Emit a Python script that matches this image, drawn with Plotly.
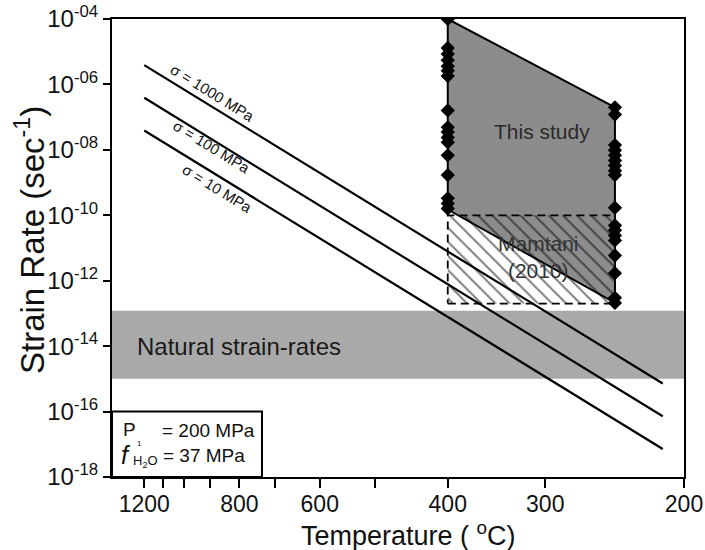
import numpy as np
import plotly.graph_objects as go

# ---------------- data ----------------
tick_temps = [1200, 1100, 1000, 900, 800, 700, 600, 500, 400, 300, 200]
tick_labels = ["1200", "", "", "", "800", "", "600", "", "400", "300", "200"]
x_range_temps = [1413, 200]

y_tick_exps = [-18, -16, -14, -12, -10, -8, -6, -4]

# flow-law lines (strain rate, 1/s) at the end temperatures
line_temps = [1200, 213]
stress_labels = ["σ = 1000 MPa", "σ = 100 MPa", "σ = 10 MPa"]
rate_1000 = [3.9e-6, 7.2e-16]
rate_100 = [3.9e-7, 7.2e-17]
rate_10 = [3.9e-8, 7.2e-18]

# natural strain-rate band
natural_band = [1.0e-15, 1.2e-13]

# this study envelope
study_temps = [400, 245, 245, 400]
study_rates = [1.0e-4, 2.0e-7, 2.1e-13, 1.5e-10]

# experiments (diamonds)
exp_400_rates = [1.0e-4, 1.3e-5, 8.5e-6, 5.5e-6, 3.6e-6, 2.6e-6, 1.8e-6, 1.6e-7,
                 4.9e-8, 3.5e-8, 2.4e-8, 1.7e-8, 6.8e-9, 1.7e-9, 3.3e-10, 2.3e-10, 1.6e-10]
exp_245_rates = [2.0e-7, 1.2e-7, 1.4e-8, 9.8e-9, 6.8e-9, 4.7e-9, 3.3e-9, 2.3e-9, 1.7e-9,
                 1.7e-10, 4.9e-11, 3.5e-11, 2.4e-11, 1.7e-11, 5.9e-12, 1.7e-12, 3.0e-13, 2.1e-13]

# Mamtani (2010) range
mamtani_temps = [400, 245]
mamtani_rates = [2.0e-13, 1.0e-10]


def inv(temps):
    return [1000.0 / (t + 273.15) for t in temps]


FONT = "Liberation Sans, Arial, sans-serif"
fig = go.Figure()

xr = inv(x_range_temps)

# natural band
fig.add_trace(go.Scatter(
    x=[xr[0], xr[1], xr[1], xr[0], xr[0]],
    y=[natural_band[0], natural_band[0], natural_band[1], natural_band[1], natural_band[0]],
    mode="lines", fill="toself", fillcolor="#a9a9a9", line=dict(width=0),
    hoverinfo="skip", showlegend=False))

# this study polygon
sx = inv(study_temps)
fig.add_trace(go.Scatter(
    x=sx + [sx[0]], y=study_rates + [study_rates[0]],
    mode="lines", fill="toself", fillcolor="#8c8c8c",
    line=dict(color="black", width=2), showlegend=False))

# Mamtani hatched rectangle
mx = inv(mamtani_temps)
fig.add_trace(go.Scatter(
    x=[mx[0], mx[1], mx[1], mx[0], mx[0]],
    y=[mamtani_rates[0], mamtani_rates[0], mamtani_rates[1], mamtani_rates[1], mamtani_rates[0]],
    mode="lines", fill="toself", fillcolor="rgba(0,0,0,0)",
    fillpattern=dict(shape="\\", fgcolor="#000000", bgcolor="rgba(0,0,0,0)", size=10, solidity=0.2),
    line=dict(color="black", width=1.8, dash="8px,5px"), showlegend=False))

# flow-law lines
lx = inv(line_temps)
for rates in (rate_1000, rate_100, rate_10):
    fig.add_trace(go.Scatter(x=lx, y=rates, mode="lines",
                             line=dict(color="black", width=2.2), showlegend=False))

# diamonds
fig.add_trace(go.Scatter(x=[sx[0]] * len(exp_400_rates), y=exp_400_rates, mode="markers",
                         marker=dict(symbol="diamond", size=11, color="black"), showlegend=False))
fig.add_trace(go.Scatter(x=[sx[1]] * len(exp_245_rates), y=exp_245_rates, mode="markers",
                         marker=dict(symbol="diamond", size=11, color="black"), showlegend=False))

annotations = []
# stress labels
label_pos = [(891, -6.24), (894, -7.91), (872, -9.18)]
for txt, (t, ly) in zip(stress_labels, label_pos):
    annotations.append(dict(x=1000.0 / (t + 273.15), y=ly, xref="x", yref="y", text=txt,
                            showarrow=False, textangle=31.5,
                            font=dict(family=FONT, size=15, color="#111")))

annotations.append(dict(x=inv([303])[0], y=-7.43, xref="x", yref="y", text="This study",
                        showarrow=False, font=dict(family=FONT, size=21, color="#2a2a2a")))
annotations.append(dict(x=inv([306])[0], y=-11.29, xref="x", yref="y", text="Mamtani<br>(2010)",
                        showarrow=False, font=dict(family=FONT, size=21, color="#333")))
annotations.append(dict(x=0.654, y=-14.0, xref="x", yref="y", text="Natural strain-rates",
                        xanchor="left", showarrow=False, font=dict(family=FONT, size=24, color="#1a1a1a")))


# paper-coordinate helpers (plot area spans x 112..684, y 19..477 px)
def px(X):
    return (X - 112) / 572.0


def py(Y):
    return (477 - Y) / 458.0


box_texts = [
    dict(x=px(121), y=py(429), text="P", xanchor="left", yanchor="middle"),
    dict(x=px(160), y=py(430), text="= 200 MPa", xanchor="left", yanchor="middle"),
    dict(x=px(119), y=py(455), text="<i>f</i>", xanchor="left", yanchor="middle", size=25),
    dict(x=px(135), y=py(443), text="1", xanchor="left", yanchor="middle", size=8),
    dict(x=px(131), y=py(461), text="H<sub>2</sub>O", xanchor="left", yanchor="middle", size=13),
    dict(x=px(161), y=py(455), text="= 37 MPa", xanchor="left", yanchor="middle"),
]
for a in box_texts:
    sz = a.pop("size", 19)
    a.update(xref="paper", yref="paper", showarrow=False,
             font=dict(family=FONT, size=sz, color="#111"))
annotations += box_texts

# axis titles
annotations.append(dict(x=px(408), y=py(534), xref="paper", yref="paper", showarrow=False,
                        text="Temperature ( <sup>o</sup>C)", xanchor="center", yanchor="middle",
                        font=dict(family=FONT, size=27, color="#111")))
annotations.append(dict(x=px(30), y=py(240), xref="paper", yref="paper", showarrow=False,
                        text="Strain Rate (sec<sup>-1</sup>)", xanchor="center", yanchor="middle",
                        textangle=-90, font=dict(family=FONT, size=33, color="#111")))

fig.add_shape(type="rect", xref="paper", yref="paper", x0=0, x1=px(262), y0=0, y1=2.0 / 14,
              line=dict(color="black", width=2), fillcolor="rgba(0,0,0,0)")

fig.update_layout(
    width=705, height=550,
    margin=dict(l=112, r=21, t=19, b=73, autoexpand=False),
    paper_bgcolor="white", plot_bgcolor="white",
    annotations=annotations,
    font=dict(family=FONT, color="#111"),
)
fig.update_xaxes(
    range=xr, tickvals=inv(tick_temps), ticktext=tick_labels,
    ticks="outside", ticklen=9, tickwidth=2, tickcolor="black",
    showline=True, linecolor="black", linewidth=2, mirror=True,
    showgrid=False, zeroline=False, automargin=False,
    ticklabelstandoff=-4,
    tickfont=dict(family=FONT, size=23, color="#111"),
)
fig.update_yaxes(
    type="log", range=[-18, -4],
    tickvals=[10.0 ** e for e in y_tick_exps],
    ticktext=["10<sup>-%02d</sup>" % (-e) for e in y_tick_exps],
    ticks="outside", ticklen=7, tickwidth=2, tickcolor="black",
    showline=True, linecolor="black", linewidth=2, mirror=True,
    showgrid=False, zeroline=False, automargin=False,
    tickfont=dict(family=FONT, size=24, color="#111"),
)

fig.write_html("out.html")
